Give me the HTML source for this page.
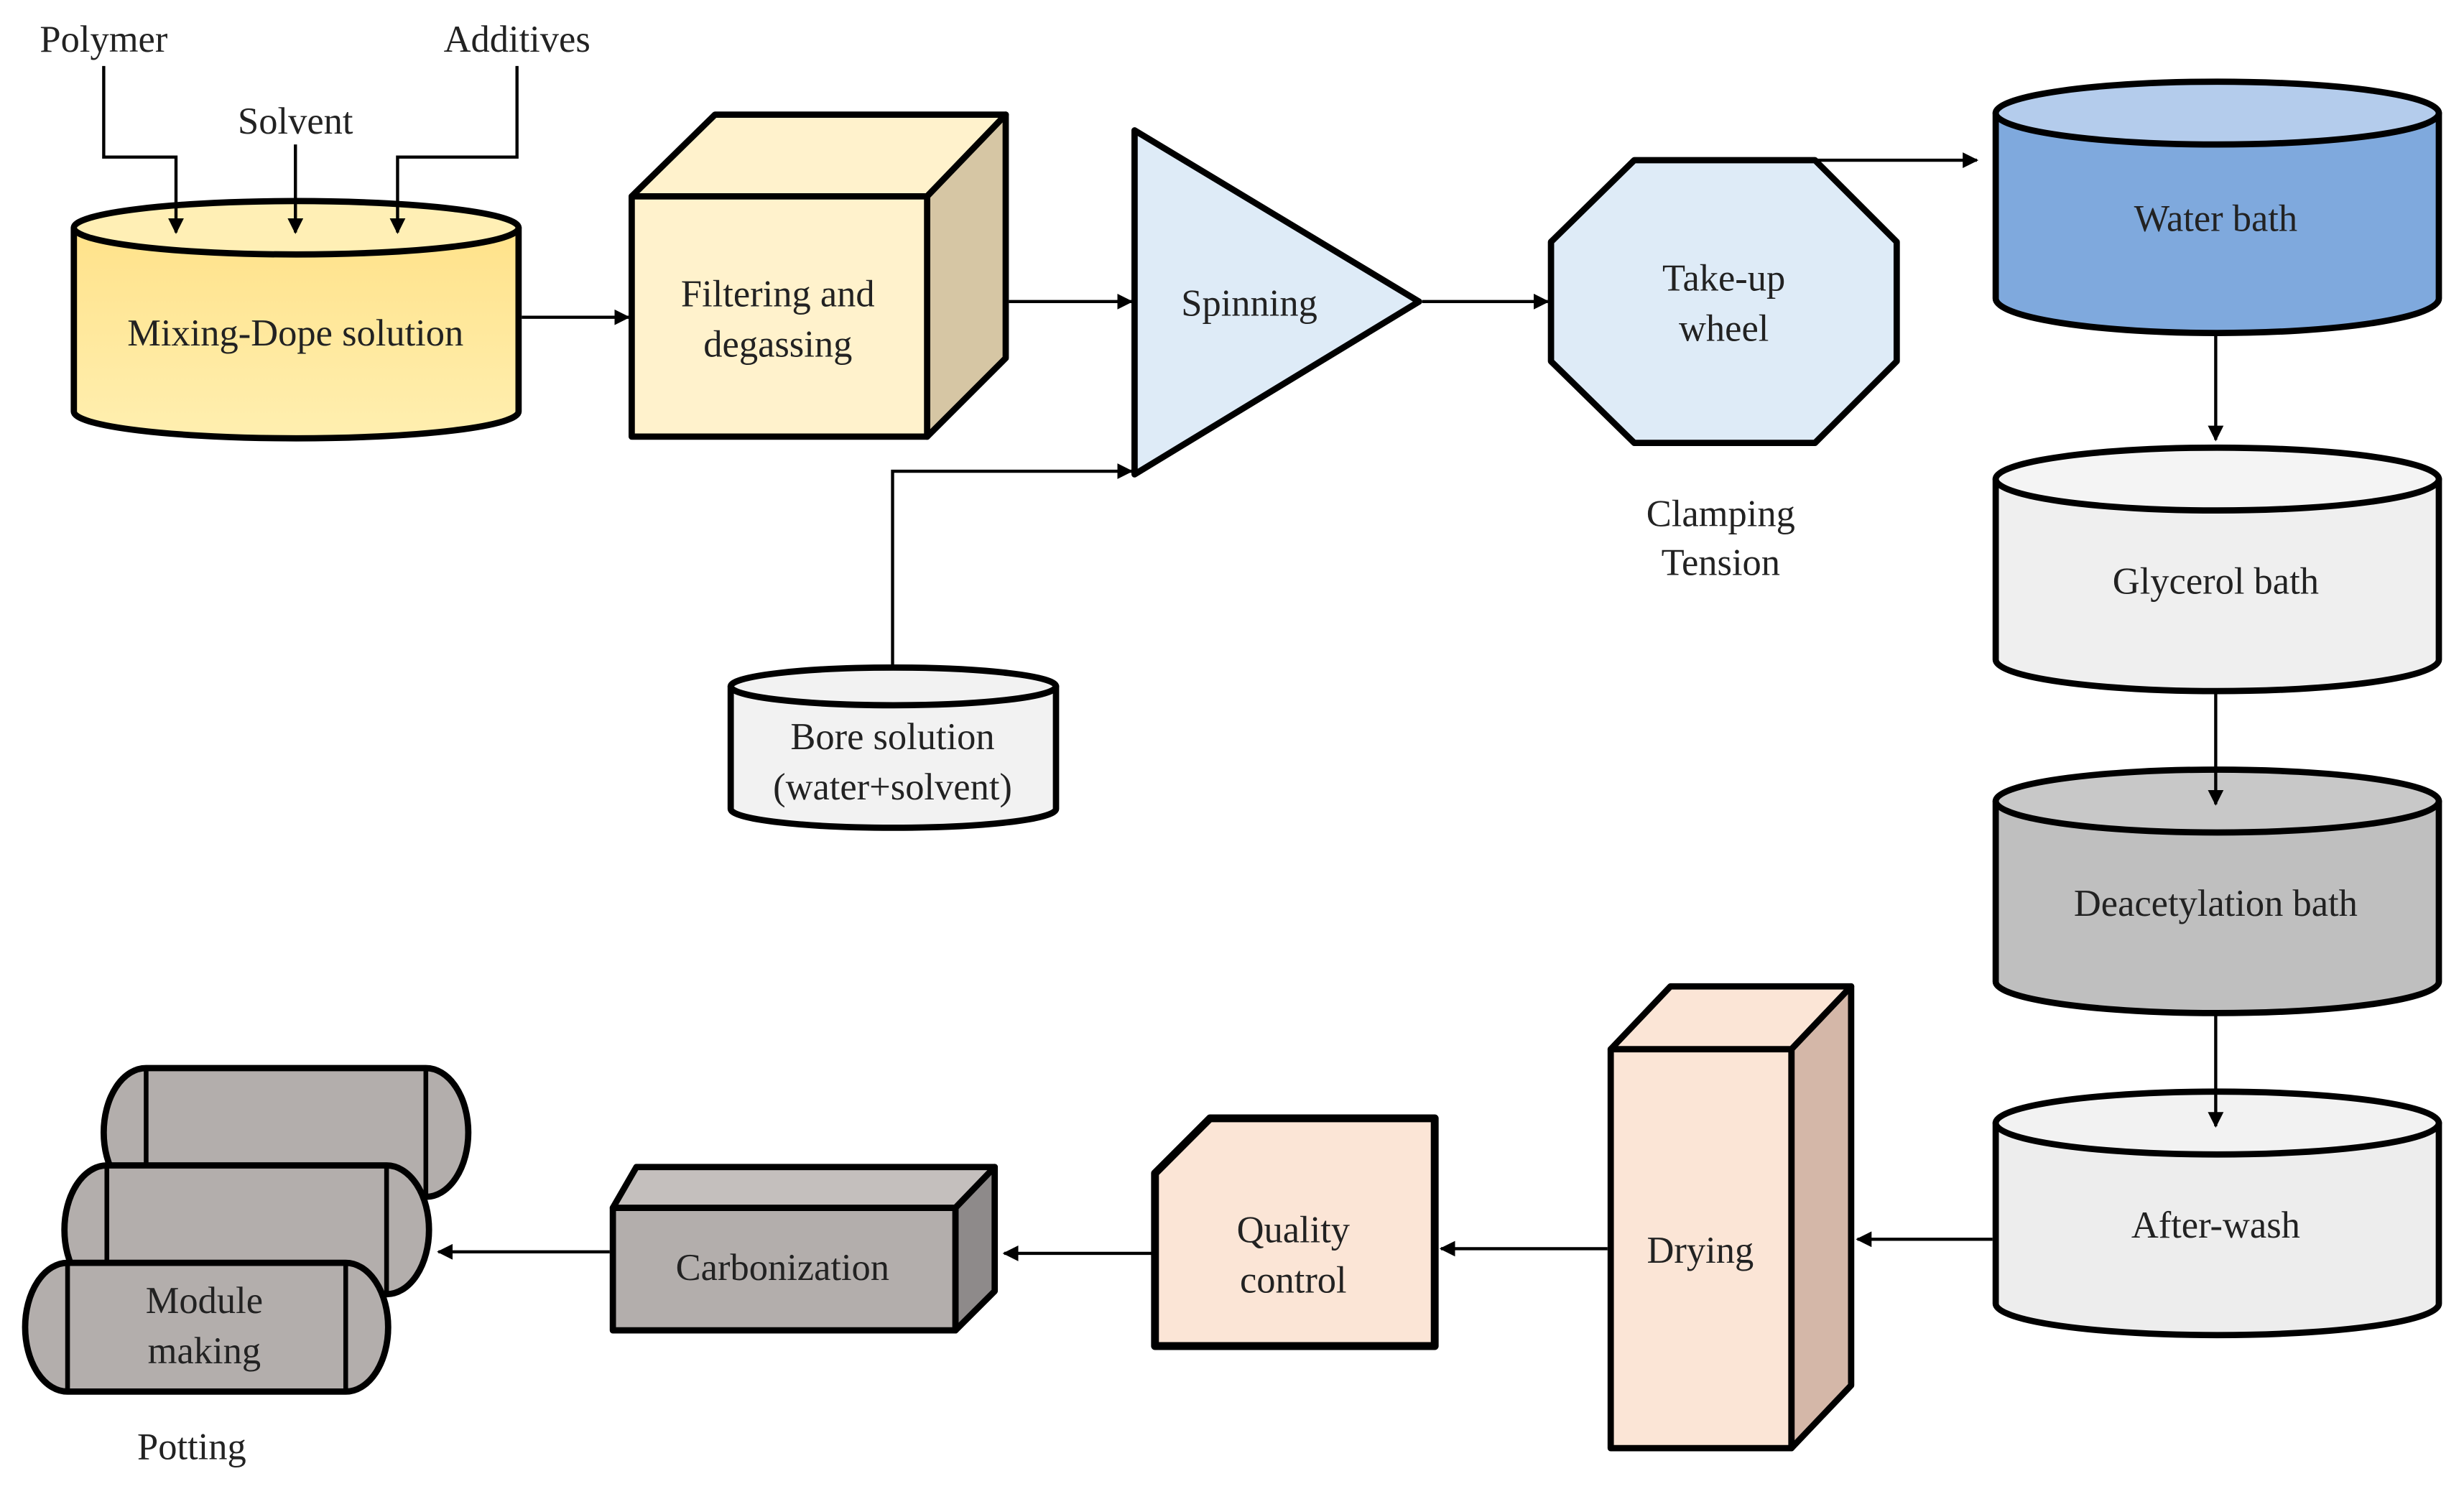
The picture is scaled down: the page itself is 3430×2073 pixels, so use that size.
<!DOCTYPE html>
<html><head><meta charset="utf-8"><style>
html,body{margin:0;padding:0;background:#fff}
svg{display:block}
text{font-family:"Liberation Serif","Times New Roman","DejaVu Serif",serif;font-size:24px;fill:#222;text-anchor:middle}
</style></head><body>
<svg width="3430" height="2073" viewBox="0 0 1568 948" preserveAspectRatio="none" xmlns="http://www.w3.org/2000/svg">
<defs>
<marker id="a" markerWidth="10" markerHeight="10" refX="9" refY="5" orient="auto" markerUnits="userSpaceOnUse"><path d="M0,0 L10,5 L0,10 z" fill="#000"/></marker>
<linearGradient id="yg" x1="0" x2="0" y1="0" y2="1"><stop offset="0" stop-color="#FFE28A"/><stop offset="1" stop-color="#FFEFB0"/></linearGradient>
</defs>
<g stroke="#000" stroke-width="4" stroke-linejoin="round">
<path d="M47,145 V262 A141,17 0 0 0 330,262 V145 Z" fill="url(#yg)"/>
<ellipse cx="188.5" cy="145" rx="141.5" ry="17" fill="#FFEFB5"/>
<path d="M402,125 L455,73 H640 L590,125 Z" fill="#FFF2CC"/>
<path d="M590,125 L640,73 V228 L590,278 Z" fill="#D6C6A4"/>
<rect x="402" y="125" width="188" height="153" fill="#FFF2CC"/>
<path d="M722,83 L722,302 L903,192 Z" fill="#DEEBF7"/>
<path d="M465,437 V515 A103.5,12 0 0 0 672,515 V437 Z" fill="#F2F2F2"/>
<ellipse cx="568.5" cy="437" rx="103.5" ry="12" fill="#F2F2F2"/>
<path d="M1040,102 H1155 L1207,154 V230 L1155,282 H1040 L987,230 V154 Z" fill="#DEEBF7"/>
<path d="M1270,72 V190 A141,22 0 0 0 1552,190 V72 Z" fill="#7FA9DD"/>
<ellipse cx="1411" cy="72" rx="141" ry="20" fill="#B4CCEC"/>
<path d="M1270,305 V420 A141,20 0 0 0 1552,420 V305 Z" fill="#EFEFEF"/>
<ellipse cx="1411" cy="305" rx="141" ry="20" fill="#F4F4F4"/>
<path d="M1270,510 V625 A141,20 0 0 0 1552,625 V510 Z" fill="#BFBFBF"/>
<ellipse cx="1411" cy="510" rx="141" ry="20" fill="#C8C8C8"/>
<path d="M1270,715 V830 A141,20 0 0 0 1552,830 V715 Z" fill="#EDEDED"/>
<ellipse cx="1411" cy="715" rx="141" ry="20" fill="#F2F2F2"/>
<path d="M1025,668 L1063,628 H1178 L1140,668 Z" fill="#FBE5D6"/>
<path d="M1140,668 L1178,628 V882 L1140,922 Z" fill="#D4B7A8"/>
<rect x="1025" y="668" width="115" height="254" fill="#FBE5D6"/>
<path d="M770,712 H913 V857 H735 V747 Z" fill="#FBE5D6" stroke-width="5"/>
<path d="M390,769 L405,743 H633 L608,769 Z" fill="#C4BFBD"/>
<path d="M608,769 L633,743 V822 L608,847 Z" fill="#8E8A8A"/>
<rect x="390" y="769" width="218" height="78" fill="#B3AEAC"/>
<g fill="#B3AEAC">
<path d="M93,680 H271 A27,41 0 0 1 271,762 H93 A27,41 0 0 1 93,680 Z"/>
<path d="M93,680 V762 M271,680 V762" fill="none" stroke-width="3"/>
<path d="M68,742 H246 A27,41 0 0 1 246,824 H68 A27,41 0 0 1 68,742 Z"/>
<path d="M68,742 V824 M246,742 V824" fill="none" stroke-width="3"/>
<path d="M43,804 H220 A27,41 0 0 1 220,886 H43 A27,41 0 0 1 43,804 Z"/>
<path d="M43,804 V886 M220,804 V886" fill="none" stroke-width="3"/>
</g>
</g>
<g fill="none" stroke="#000" stroke-width="2">
<path d="M66,42 V100 H112 V148" marker-end="url(#a)"/>
<path d="M188,92 V148" marker-end="url(#a)"/>
<path d="M329,42 V100 H253 V148" marker-end="url(#a)"/>
<path d="M332,202 H400" marker-end="url(#a)"/>
<path d="M642,192 H720" marker-end="url(#a)"/>
<path d="M568,425 V300 H720" marker-end="url(#a)"/>
<path d="M905,192 H985" marker-end="url(#a)"/>
<path d="M1155,102 H1258" marker-end="url(#a)"/>
<path d="M1410,212 V280" marker-end="url(#a)"/>
<path d="M1410,441 V512" marker-end="url(#a)"/>
<path d="M1410,646 V717" marker-end="url(#a)"/>
<path d="M1268,789 H1182" marker-end="url(#a)"/>
<path d="M1023,795 H917" marker-end="url(#a)"/>
<path d="M733,798 H639" marker-end="url(#a)"/>
<path d="M388,797 H279" marker-end="url(#a)"/>
</g>
<text x="66" y="33">Polymer</text>
<text x="188" y="85">Solvent</text>
<text x="329" y="33">Additives</text>
<text x="188" y="220">Mixing-Dope solution</text>
<text x="495" y="195">Filtering and</text>
<text x="495" y="227">degassing</text>
<text x="795" y="201">Spinning</text>
<text x="568" y="477">Bore solution</text>
<text x="568" y="509">(water+solvent)</text>
<text x="1097" y="185">Take-up</text>
<text x="1097" y="217">wheel</text>
<text x="1095" y="335">Clamping</text>
<text x="1095" y="366">Tension</text>
<text x="1410" y="147">Water bath</text>
<text x="1410" y="378">Glycerol bath</text>
<text x="1410" y="583">Deacetylation bath</text>
<text x="1410" y="788">After-wash</text>
<text x="1082" y="804">Drying</text>
<text x="823" y="791">Quality</text>
<text x="823" y="823">control</text>
<text x="498" y="815">Carbonization</text>
<text x="130" y="836">Module</text>
<text x="130" y="868">making</text>
<text x="122" y="929">Potting</text>
</svg>
</body></html>
